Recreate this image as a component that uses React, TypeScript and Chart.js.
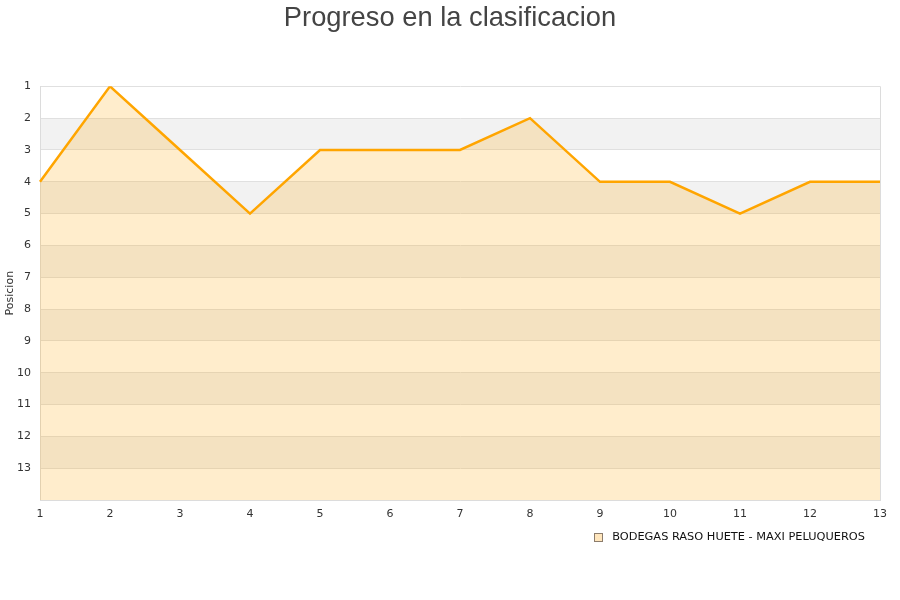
import React, { useEffect, useRef } from "react";
import { Chart, registerables } from "chart.js";

Chart.register(...registerables);

const jornadas = ["1", "2", "3", "4", "5", "6", "7", "8", "9", "10", "11", "12", "13"];
const posiciones = [4, 1, 3, 5, 3, 3, 3, 2, 4, 4, 5, 4, 4];
const equipo = "BODEGAS RASO HUETE - MAXI PELUQUEROS";
const titulo = "Progreso en la clasificacion";
const ejeY = "Posicion";

const bandsPlugin = {
  id: "bands",
  beforeDraw(chart: any) {
    const { ctx, chartArea } = chart;
    const y = chart.scales.y;
    ctx.save();
    ctx.fillStyle = "#f2f2f2";
    for (let v = 2; v < 14; v += 2) {
      const a = y.getPixelForValue(v);
      const b = y.getPixelForValue(v + 1);
      ctx.fillRect(chartArea.left, a, chartArea.right - chartArea.left, b - a);
    }
    ctx.restore();
  },
  afterDraw(chart: any) {
    const { ctx, chartArea } = chart;
    ctx.save();
    ctx.strokeStyle = "#dcdcdc";
    ctx.lineWidth = 1;
    ctx.beginPath();
    ctx.moveTo(Math.round(chartArea.right) + 0.5, chartArea.top);
    ctx.lineTo(Math.round(chartArea.right) + 0.5, chartArea.bottom);
    ctx.stroke();
    // legend (bottom right)
    const ds = chart.data.datasets[0];
    ctx.font = "11.35px 'DejaVu Sans'";
    ctx.textBaseline = "middle";
    ctx.textAlign = "left";
    const w = ctx.measureText(ds.label).width;
    const tx = chartArea.right - 15 - w;
    const ty = chartArea.bottom + 37;
    ctx.fillStyle = "#111";
    ctx.fillText(ds.label, tx, ty);
    const bx = Math.round(tx - 18) + 0.5;
    const by = Math.round(ty - 4) + 0.5;
    ctx.fillStyle = "#ffe6bd";
    ctx.fillRect(bx, by, 8, 8);
    ctx.strokeStyle = "#8c7c6c";
    ctx.strokeRect(bx, by, 8, 8);
    ctx.restore();
  },
};

export default function App() {
  const ref = useRef<HTMLCanvasElement>(null);
  useEffect(() => {
    const chart = new Chart(ref.current as HTMLCanvasElement, {
      type: "line",
      data: {
        labels: jornadas,
        datasets: [
          {
            label: equipo,
            data: posiciones,
            borderColor: "#ffa500",
            backgroundColor: "rgba(255,165,0,0.2)",
            borderWidth: 2.5,
            pointRadius: 0,
            tension: 0,
            fill: { value: 14 },
            yAxisID: "y",
          },
        ],
      },
      options: {
        animation: false,
        responsive: false,
        devicePixelRatio: 1,
        layout: { padding: { left: 0, right: 0, top: 0, bottom: 74 } },
        plugins: {
          title: {
            display: true,
            text: titulo,
            color: "#444",
            font: { family: "Liberation Sans", size: 27.3, weight: "normal" },
            padding: { top: 2, bottom: 51.6 },
          },
          legend: { display: false },
          tooltip: { enabled: false },
        },
        scales: {
          x: {
            type: "category",
            offset: false,
            grid: { display: false },
            border: { display: true, color: "#dcdcdc" },
            ticks: {
              color: "#333",
              font: { family: "DejaVu Sans", size: 11 },
              maxRotation: 0,
              autoSkip: false,
              padding: 0,
            },
            afterFit: (s: any) => {
              s.height = 26;
            },
          },
          y: {
            reverse: true,
            min: 1,
            max: 14,
            grid: { color: "#e0e0e0", drawTicks: false },
            border: { display: true, color: "#dcdcdc" },
            ticks: {
              stepSize: 1,
              color: "#333",
              font: { family: "DejaVu Sans", size: 11 },
              padding: 9,
              callback: (v: any) => (v >= 14 ? "" : String(v)),
            },
            title: {
              display: true,
              text: ejeY,
              color: "#333",
              font: { family: "DejaVu Sans", size: 11 },
              padding: { top: 4, bottom: 0 },
            },
            afterFit: (s: any) => {
              s.width = 40;
            },
          },
          y2: {
            position: "right",
            display: true,
            grid: { display: false, drawTicks: false },
            border: { display: false },
            ticks: { display: false },
            afterFit: (s: any) => {
              s.width = 20;
            },
          },
        },
      },
      plugins: [bandsPlugin],
    });
    return () => chart.destroy();
  }, []);
  return (
    <div style={{ position: "fixed", left: 0, top: 0, width: 900, height: 600, background: "#fff" }}>
      <canvas ref={ref} width={900} height={600} style={{ width: 900, height: 600 }} />
    </div>
  );
}
